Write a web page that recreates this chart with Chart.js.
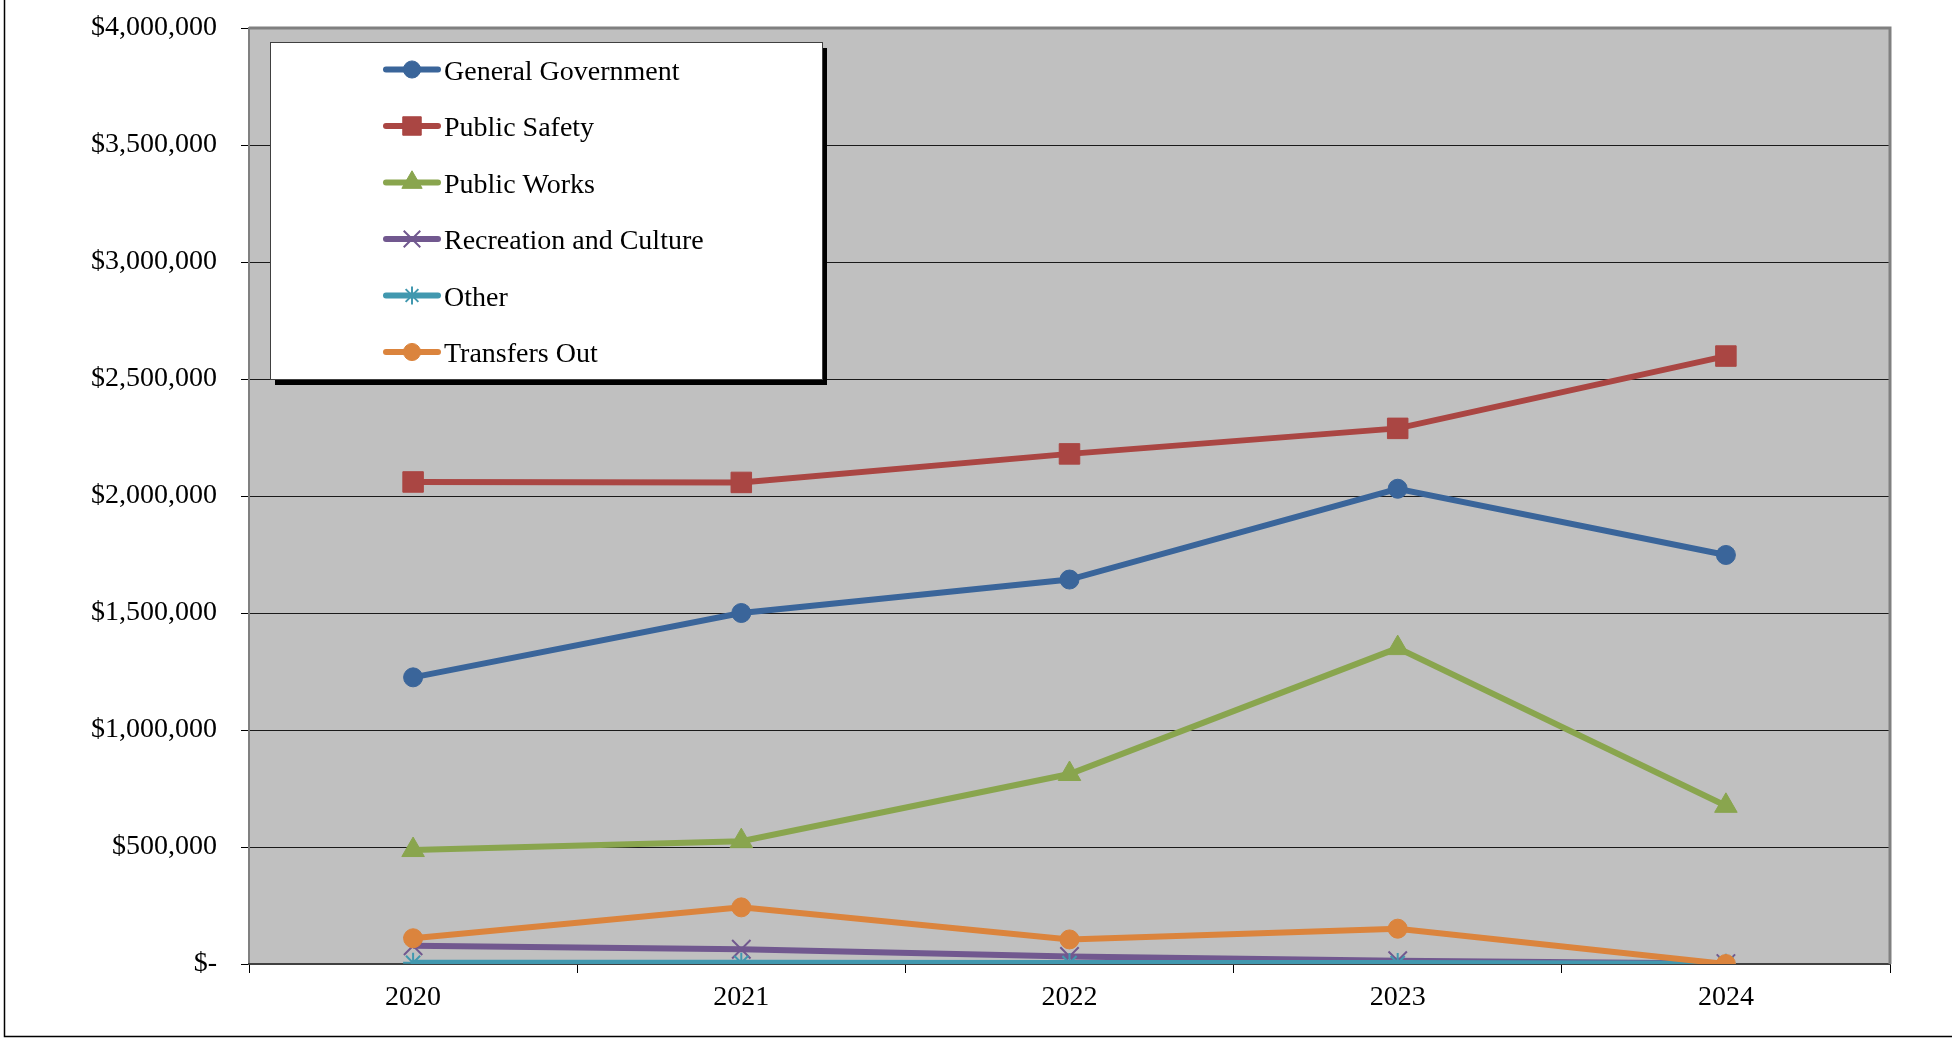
<!DOCTYPE html>
<html lang="en">
<head>
    <meta charset="UTF-8">
    <title>Expenditures by Function</title>
    <script src="https://cdn.jsdelivr.net/npm/chart.js"></script>
    <style>
        html, body {
            margin: 0;
            padding: 0;
            background-color: #FFFFFF;
        }
        #myChart {
            display: block;
        }
    </style>
</head>
<body>
    <canvas id="myChart" width="1952" height="1038"></canvas>

    <script>
        // categories
        var years = ['2020', '2021', '2022', '2023', '2024'];

        // series values
        var generalGovernment = [1225000, 1500000, 1643000, 2031000, 1748000];
        var publicSafety = [2060000, 2058000, 2180000, 2289000, 2598000];
        var publicWorks = [487000, 525000, 812000, 1350000, 676000];
        var recreationCulture = [78000, 63000, 32000, 14000, 2000];
        var otherSpending = [5000, 5000, 4000, 4000, 1000];
        var transfersOut = [110000, 242000, 105000, 151000, 0];

        // y axis ticks
        var yMin = 0;
        var yMax = 4000000;
        var yStep = 500000;

        var serifFont = "'Liberation Serif', 'Times New Roman', serif";

        function series(label, data, color, style, radius, borderWidth, order) {
            return {
                label: label,
                data: data,
                borderColor: color,
                backgroundColor: color,
                borderWidth: 6,
                tension: 0,
                pointStyle: style,
                pointRadius: radius,
                pointHoverRadius: radius,
                pointBorderWidth: borderWidth,
                pointBackgroundColor: color,
                pointBorderColor: color,
                order: order
            };
        }

        var chartData = {
            labels: years,
            datasets: [
                series('General Government', generalGovernment, '#3A659A', 'circle', 9.5, 1, 6),
                series('Public Safety', publicSafety, '#AA4643', 'rect', 14.5, 1, 5),
                series('Public Works', publicWorks, '#89A54E', 'triangle', 13, 1, 4),
                series('Recreation and Culture', recreationCulture, '#71588F', 'crossRot', 13, 2, 3),
                series('Other', otherSpending, '#4198AF', 'star', 10, 2, 2),
                series('Transfers Out', transfersOut, '#DB843D', 'circle', 9.5, 1, 1)
            ]
        };

        // plot background, frame and the boxed legend
        var plotFrame = {
            id: 'plotFrame',
            beforeDraw: function(chart) {
                var ctx = chart.ctx, a = chart.chartArea;
                ctx.save();
                ctx.fillStyle = '#FFFFFF';
                ctx.fillRect(0, 0, chart.width, chart.height);
                ctx.fillStyle = '#C0C0C0';
                ctx.fillRect(a.left, a.top, a.right - a.left, a.bottom - a.top);
                ctx.restore();
            },
            beforeDatasetsDraw: function(chart) {
                var ctx = chart.ctx, a = chart.chartArea;
                ctx.save();
                ctx.strokeStyle = '#808080';
                ctx.lineWidth = 3;
                ctx.beginPath();
                ctx.moveTo(a.left, a.top);
                ctx.lineTo(a.right, a.top);
                ctx.lineTo(a.right, a.bottom);
                ctx.stroke();
                ctx.restore();
            },
            afterDraw: function(chart) {
                var ctx = chart.ctx;
                ctx.save();

                // outer page frame (left and bottom)
                ctx.strokeStyle = '#000000';
                ctx.lineWidth = 1.5;
                ctx.beginPath();
                ctx.moveTo(4.5, 0);
                ctx.lineTo(4.5, 1036.5);
                ctx.lineTo(chart.width, 1036.5);
                ctx.stroke();

                // legend box with shadow
                var bx = 270, by = 42, bw = 552, bh = 337;
                ctx.fillStyle = '#000000';
                ctx.fillRect(bx + 5, by + 6, bw, bh);
                ctx.fillStyle = '#FFFFFF';
                ctx.fillRect(bx, by, bw, bh);
                ctx.strokeStyle = '#404040';
                ctx.lineWidth = 1;
                ctx.strokeRect(bx + 0.5, by + 0.5, bw, bh);

                var rowY = 69.5, rowGap = 56.5;
                chart.data.datasets.forEach(function(ds, i) {
                    var y = rowY + i * rowGap;
                    ctx.strokeStyle = ds.borderColor;
                    ctx.lineWidth = 6;
                    ctx.lineCap = 'round';
                    ctx.beginPath();
                    ctx.moveTo(386, y);
                    ctx.lineTo(438, y);
                    ctx.stroke();

                    ctx.fillStyle = ds.pointBackgroundColor;
                    ctx.strokeStyle = ds.pointBorderColor;
                    ctx.lineWidth = ds.pointBorderWidth;
                    ctx.lineCap = 'butt';
                    Chart.helpers.drawPoint(ctx, {
                        pointStyle: ds.pointStyle,
                        radius: ds.pointRadius * 0.9,
                        rotation: 0,
                        borderWidth: ds.pointBorderWidth
                    }, 412, y);

                    ctx.fillStyle = '#000000';
                    ctx.font = '28px ' + serifFont;
                    ctx.textAlign = 'left';
                    ctx.textBaseline = 'alphabetic';
                    ctx.fillText(ds.label, 444, y + 10);
                });
                ctx.restore();
            }
        };

        var ctx = document.getElementById('myChart').getContext('2d');

        var myChart = new Chart(ctx, {
            type: 'line',
            data: chartData,
            plugins: [plotFrame],
            options: {
                responsive: false,
                animation: false,
                layout: {
                    padding: { left: 0, top: 28, right: 62, bottom: 0 }
                },
                scales: {
                    y: {
                        min: yMin,
                        max: yMax,
                        afterFit: function(scale) {
                            scale.width = 249;
                            scale.paddingTop = 0;
                            scale.paddingBottom = 0;
                        },
                        ticks: {
                            stepSize: yStep,
                            padding: 24,
                            color: '#000000',
                            font: { family: serifFont, size: 28 },
                            callback: function(value) {
                                if (value === 0) return '$-';
                                return '$' + value.toLocaleString('en-US');
                            }
                        },
                        grid: {
                            color: '#1A1A1A',
                            lineWidth: 1,
                            tickLength: 8,
                            tickColor: '#000000'
                        },
                        border: {
                            color: '#808080',
                            width: 2
                        }
                    },
                    x: {
                        offset: true,
                        afterFit: function(scale) {
                            scale.height = 74;
                            scale.paddingLeft = 0;
                            scale.paddingRight = 0;
                        },
                        ticks: {
                            padding: 8,
                            color: '#000000',
                            font: { family: serifFont, size: 28 }
                        },
                        grid: {
                            offset: true,
                            drawOnChartArea: false,
                            tickLength: 9,
                            tickColor: '#000000'
                        },
                        border: {
                            color: '#404040',
                            width: 2
                        }
                    }
                },
                plugins: {
                    legend: { display: false },
                    tooltip: { enabled: false }
                }
            }
        });
    </script>
</body>
</html>
